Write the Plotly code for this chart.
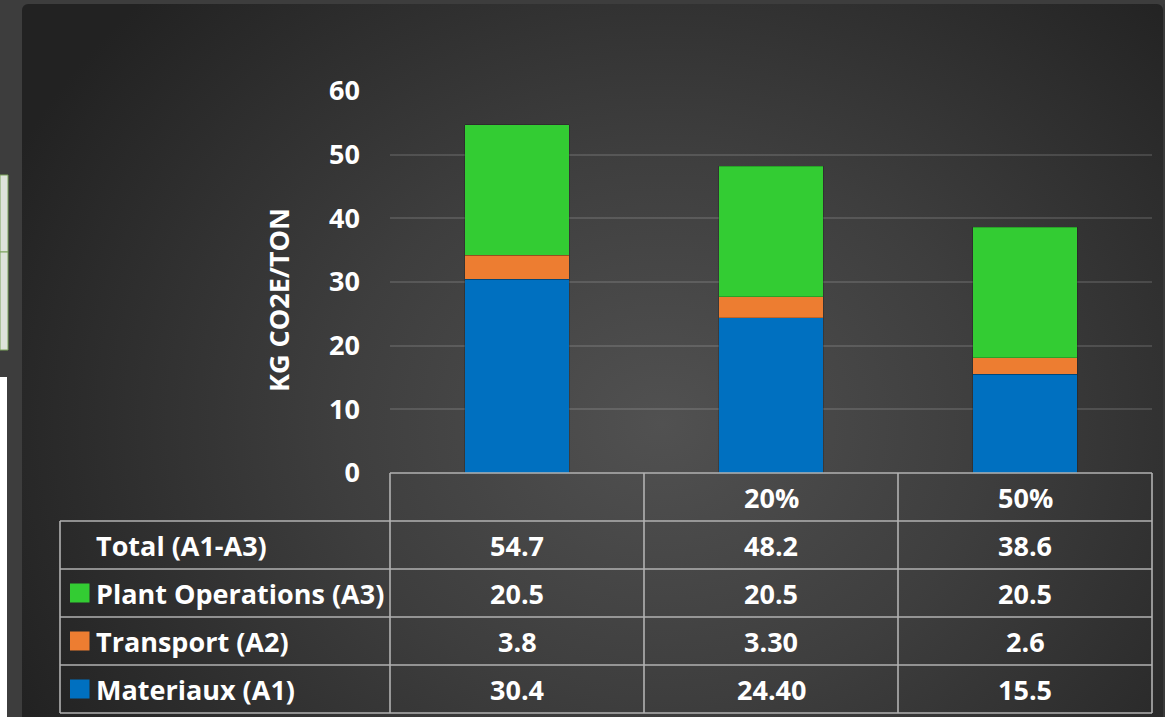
import base64
import plotly.graph_objects as go

# ---- data ---------------------------------------------------------------
categories = ["", "20%", "50%"]
materiaux = [30.4, 24.40, 15.5]
transport = [3.8, 3.30, 2.6]
plant_ops = [20.5, 20.5, 20.5]
totals = [54.7, 48.2, 38.6]

materiaux_labels = ["30.4", "24.40", "15.5"]
transport_labels = ["3.8", "3.30", "2.6"]
plant_labels = ["20.5", "20.5", "20.5"]
total_labels = ["54.7", "48.2", "38.6"]

y_ticks = [0, 10, 20, 30, 40, 50, 60]

GREEN = "#33cc33"
ORANGE = "#ed7d31"
BLUE = "#0070c0"
GRID_TABLE = "#b2b2b2"
FONT = dict(family="Open Sans, DejaVu Sans, sans-serif", color="white", size=27, weight="bold")

W, H = 1165, 717
PL, PR, PT, PB = 390, 1152, 91, 473   # plot area in pixels


def fx(px):
    return (px - PL) / (PR - PL)


def fy(py):
    return (PB - py) / (PB - PT)


x_pos = list(range(len(categories)))

fig = go.Figure()
for name, vals, color in [("Materiaux (A1)", materiaux, BLUE),
                          ("Transport (A2)", transport, ORANGE),
                          ("Plant Operations (A3)", plant_ops, GREEN)]:
    fig.add_trace(go.Bar(
        x=x_pos, y=vals, name=name, width=0.41,
        marker=dict(color=color, line=dict(color="rgba(0,0,0,0.25)", width=0.8)),
        hoverinfo="skip",
    ))

# ---- panel background (radial gradient) ---------------------------------
px0, py0, px1, py1 = 22, 4, 1163, 717
svg = f"""<svg xmlns='http://www.w3.org/2000/svg' width='{px1-px0}' height='{py1-py0}'>
<defs><radialGradient id='g' gradientUnits='userSpaceOnUse' cx='640' cy='420' r='720'
 gradientTransform='translate(640 420) scale(1 0.85) translate(-640 -420)'>
<stop offset='0' stop-color='#515151'/><stop offset='0.45' stop-color='#3e3e3e'/>
<stop offset='1' stop-color='#222222'/></radialGradient></defs>
<rect x='0' y='0' width='{px1-px0}' height='{py1-py0+10}' rx='6' ry='6' fill='url(#g)'/></svg>"""
src = "data:image/svg+xml;base64," + base64.b64encode(svg.encode()).decode()

images = [dict(source=src, xref="paper", yref="paper", x=fx(px0), y=fy(py0),
               sizex=(px1 - px0) / (PR - PL), sizey=(py1 - py0) / (PB - PT),
               xanchor="left", yanchor="top", sizing="stretch", layer="below")]

shapes = []


def rect(x0, y0, x1, y1, fill, line=None, lw=0):
    shapes.append(dict(type="rect", xref="paper", yref="paper",
                       x0=fx(x0), x1=fx(x1), y0=fy(y1), y1=fy(y0),
                       fillcolor=fill, line=dict(color=line or fill, width=lw), layer="above"))


def hline(y, x0, x1):
    shapes.append(dict(type="line", xref="paper", yref="paper", x0=fx(x0), x1=fx(x1),
                       y0=fy(y), y1=fy(y), line=dict(color=GRID_TABLE, width=1.6), layer="above"))


def vline(x, y0, y1):
    shapes.append(dict(type="line", xref="paper", yref="paper", x0=fx(x), x1=fx(x),
                       y0=fy(y0), y1=fy(y1), line=dict(color=GRID_TABLE, width=1.6), layer="above"))


# window edges around the panel
rect(0, 175, 8, 252, "#dde3da", "#7aa35a", 1)
rect(0, 252, 8, 350, "#dde3da", "#7aa35a", 1)
rect(0, 377, 7, 717, "#ffffff")
rect(1163, 4, 1165, 717, "#3a3a3a")

# ---- data table under the chart ----------------------------------------
row_tops = [473, 521, 569, 617, 665, 713]
col_edges = [390, 644, 898, 1152]
hline(row_tops[0], PL, PR)
for y in row_tops[1:]:
    hline(y, 60, PR)
vline(60, row_tops[1], row_tops[-1])
for x in col_edges:
    vline(x, row_tops[0], row_tops[-1])

annotations = []
row_centers = [(a + b) / 2 for a, b in zip(row_tops[:-1], row_tops[1:])]

# header row
for i, c in enumerate(categories):
    annotations.append(dict(text=c, x=x_pos[i], xref="x", y=fy(row_centers[0]), yref="paper",
                            showarrow=False, font=FONT, xanchor="center", yanchor="middle"))

rows = [("Total (A1-A3)", None, total_labels),
        ("Plant Operations (A3)", GREEN, plant_labels),
        ("Transport (A2)", ORANGE, transport_labels),
        ("Materiaux (A1)", BLUE, materiaux_labels)]
for r, (label, color, texts) in enumerate(rows):
    yc = row_centers[r + 1]
    annotations.append(dict(text=label, x=fx(94), xref="paper", y=fy(yc), yref="paper",
                            showarrow=False, font=FONT, xanchor="left", yanchor="middle"))
    if color:
        rect(70, yc - 9.5, 89.5, yc + 9.5, color)
    for i, t in enumerate(texts):
        annotations.append(dict(text=t, x=x_pos[i], xref="x", y=fy(yc), yref="paper",
                                showarrow=False, font=FONT, xanchor="center", yanchor="middle"))

# y-axis title
annotations.append(dict(text="KG CO2E/TON", x=fx(278), xref="paper", y=fy(300), yref="paper",
                        showarrow=False, textangle=-90, font=FONT,
                        xanchor="center", yanchor="middle"))

fig.update_layout(
    width=W, height=H,
    margin=dict(l=PL, r=W - PR, t=PT, b=H - PB, pad=0),
    barmode="stack",
    showlegend=False,
    paper_bgcolor="#3d3d3d",
    plot_bgcolor="rgba(0,0,0,0)",
    images=images,
    shapes=shapes,
    annotations=annotations,
    xaxis=dict(range=[-0.5, 2.5], showticklabels=False, showgrid=False, zeroline=False,
               showline=False, fixedrange=True),
    yaxis=dict(range=[0, 60], tickvals=y_ticks, showgrid=True,
               gridcolor="rgba(255,255,255,0.13)", gridwidth=1.6, zeroline=False,
               showline=False, ticks="", ticklabelstandoff=29,
               tickfont=dict(family=FONT["family"], color="white", size=27, weight="bold"),
               fixedrange=True),
)

fig.write_html("out.html")
